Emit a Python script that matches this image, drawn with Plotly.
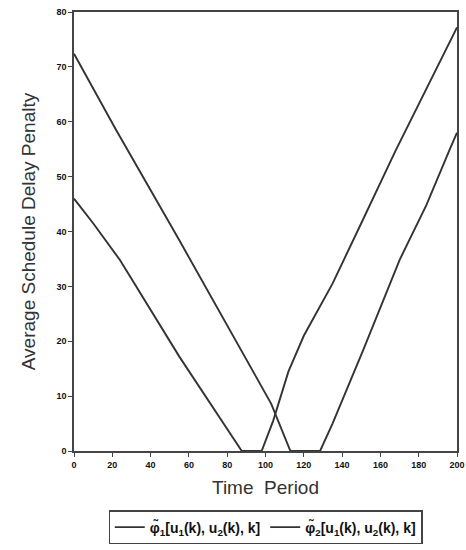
import plotly.graph_objects as go

# Series 1 (lower start, then rising earlier)
t1 = [0, 10, 24, 55, 87.6, 98, 104, 112, 120, 135, 150, 168, 200]
v1 = [46.0, 41.5, 34.8, 17.2, 0, 0, 5.5, 14.5, 21, 30.5, 41.5, 54.8, 77.2]

# Series 2 (upper start, then rising later)
t2 = [0, 22, 55, 92, 103, 113, 128.5, 135, 151, 170, 184, 196, 200]
v2 = [72.4, 58.5, 38.4, 15.4, 8.6, 0, 0, 5, 18.4, 34.8, 44.8, 54.8, 58.0]

names = ["<b>φ̃<sub>1</sub>[u<sub>1</sub>(k), u<sub>2</sub>(k), k]</b>",
         "<b>φ̃<sub>2</sub>[u<sub>1</sub>(k), u<sub>2</sub>(k), k]</b>"]

x_ticks = list(range(0, 201, 20))
y_ticks = list(range(0, 81, 10))

fig = go.Figure()
for t, v, n in [(t1, v1, names[0]), (t2, v2, names[1])]:
    fig.add_trace(go.Scatter(x=t, y=v, mode="lines", name=n,
                             line=dict(color="#333333", width=1.9)))

axis_common = dict(showline=True, linecolor="#444", linewidth=1.6, mirror=True,
                   ticks="outside", ticklen=4, tickcolor="#444", showgrid=False,
                   zeroline=False,
                   tickfont=dict(family="Liberation Sans, Arial", size=9, color="#111"))

fig.update_xaxes(range=[0, 200], tickvals=x_ticks, ticktext=[f"<b>{v}</b>" for v in x_ticks],
                 **axis_common,
                 title=dict(text="Time  Period", standoff=12,
                            font=dict(family="Liberation Sans, Arial", size=19, color="#333")))
fig.update_yaxes(range=[0, 80], tickvals=y_ticks, ticktext=[f"<b>{v}</b>" for v in y_ticks],
                 **axis_common,
                 title=dict(text="Average Schedule Delay Penalty", standoff=16,
                            font=dict(family="Liberation Sans, Arial", size=19, color="#333")))

fig.update_layout(
    width=466, height=550,
    margin=dict(l=74, r=9, t=12, b=99, autoexpand=False),
    paper_bgcolor="white", plot_bgcolor="white",
    showlegend=True,
    legend=dict(orientation="h", x=0.5, xanchor="center", y=-0.135, yanchor="top",
                bordercolor="#444", borderwidth=1.3,
                font=dict(family="Liberation Sans, Arial", size=14, color="#111"),
                itemwidth=30, tracegroupgap=0),
)

fig.write_html("out.html")
